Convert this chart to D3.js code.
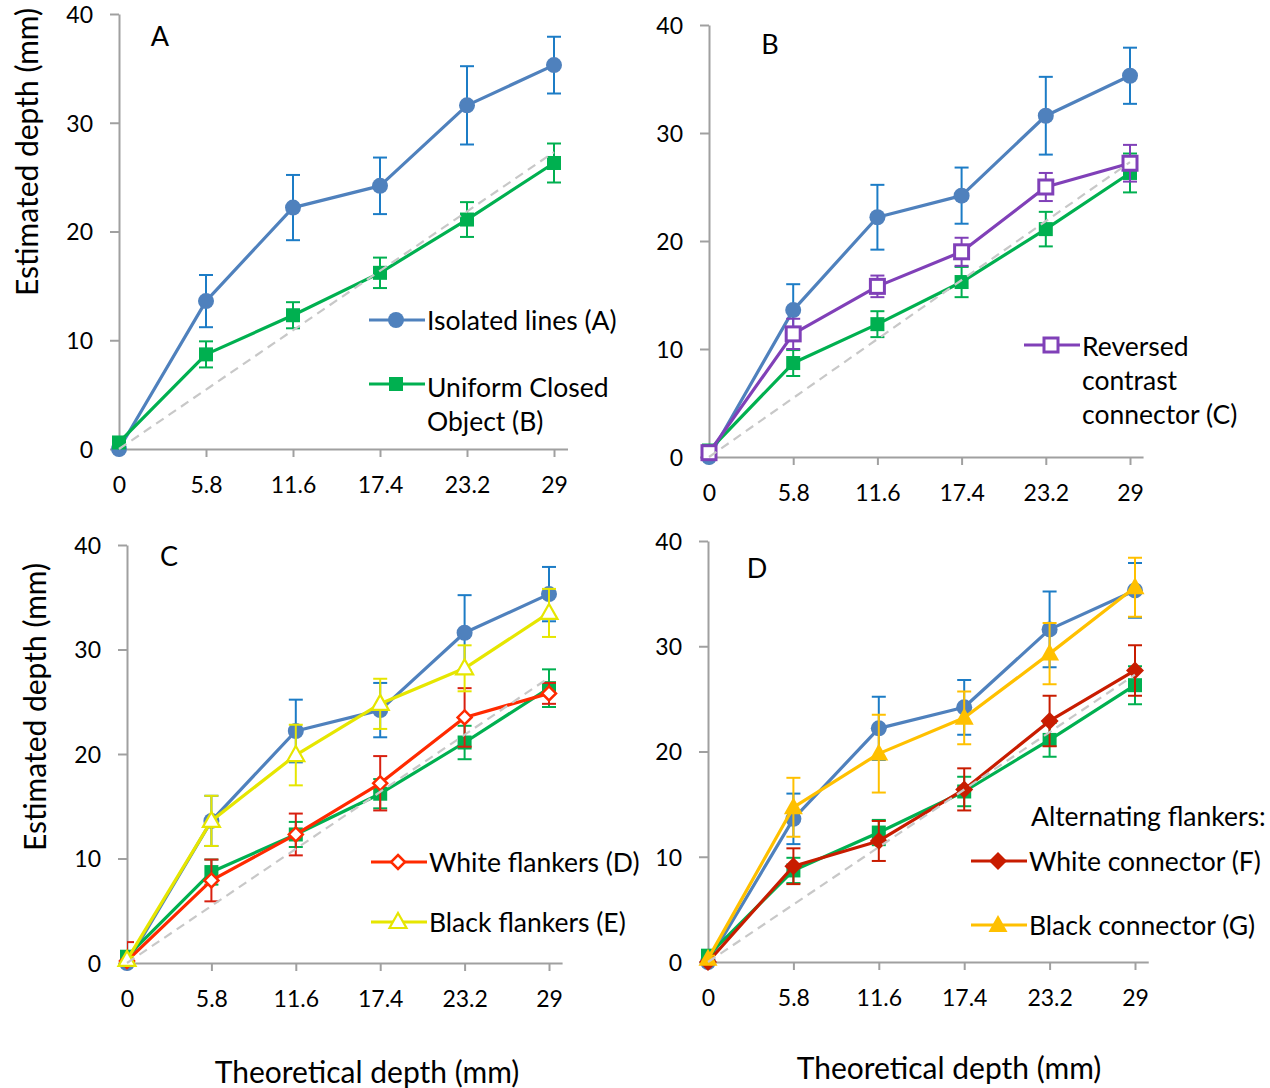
<!DOCTYPE html>
<html>
<head>
<meta charset="utf-8">
<script src="https://cdn.jsdelivr.net/npm/d3@7"></script>
<style>
  html, body { margin: 0; padding: 0; background: #fff; }
  svg { display: block; font-family: Lato, "Open Sans", sans-serif; }
</style>
</head>
<body>
<svg id="chart" width="1270" height="1088"></svg>
<script>
// Theoretical depth (mm) at which each condition was tested
const theoreticalDepth = [0, 5.8, 11.6, 17.4, 23.2, 29];
const xTickLabels = ["0", "5.8", "11.6", "17.4", "23.2", "29"];
const yTickValues = [0, 10, 20, 30, 40];

// Mean estimated depth (mm) and error bar half-widths per condition
const isolatedLines = [0.0, 13.6, 22.2, 24.2, 31.6, 35.3];
const isolatedLinesErr = [0.0, 2.4, 3.0, 2.6, 3.6, 2.6];
const uniformClosed = [0.6, 8.7, 12.3, 16.2, 21.1, 26.3];
const uniformClosedErr = [0.3, 1.2, 1.2, 1.4, 1.6, 1.8];
const reversedContrast = [0.4, 11.4, 15.8, 19.0, 25.0, 27.2];
const reversedContrastErr = [0.3, 1.4, 1.0, 1.3, 1.3, 1.7];
const whiteFlankers = [0.2, 7.9, 12.3, 17.2, 23.5, 25.8];
const whiteFlankersErr = [1.8, 2.0, 2.0, 2.6, 2.8, 1.0];
const blackFlankers = [0.3, 13.6, 19.9, 24.8, 28.2, 33.5];
const blackFlankersErr = [0.3, 2.4, 2.9, 2.4, 2.2, 2.3];
const whiteConnector = [0.0, 9.1, 11.5, 16.4, 22.9, 27.7];
const whiteConnectorErr = [0.3, 1.7, 1.9, 2.0, 2.4, 2.4];
const blackConnector = [0.3, 14.7, 19.8, 23.2, 29.3, 35.6];
const blackConnectorErr = [0.3, 2.8, 3.7, 2.5, 2.9, 2.8];

// Dashed reference line
const referenceLine = [[0, 0], [29, 27.3]];

const series = {
  isolated: { values: isolatedLines, err: isolatedLinesErr, line: "#4F81BD", errColor: "#1C7CC6", marker: "circle", fill: "#4F81BD" },
  uniform:  { values: uniformClosed, err: uniformClosedErr, line: "#00B050", errColor: "#00B050", marker: "square", fill: "#00B050" },
  reversed: { values: reversedContrast, err: reversedContrastErr, line: "#8040B8", errColor: "#8040B8", marker: "openSquare", fill: "#fff" },
  whiteFl:  { values: whiteFlankers, err: whiteFlankersErr, line: "#FF2A00", errColor: "#D82010", marker: "openDiamond", fill: "#fff" },
  blackFl:  { values: blackFlankers, err: blackFlankersErr, line: "#E6E600", errColor: "#E6E600", marker: "openTriangle", fill: "#fff" },
  whiteCo:  { values: whiteConnector, err: whiteConnectorErr, line: "#C81C00", errColor: "#C81C00", marker: "diamond", fill: "#C81C00" },
  blackCo:  { values: blackConnector, err: blackConnectorErr, line: "#FFC000", errColor: "#FFC000", marker: "triangle", fill: "#FFC000" }
};

const svg = d3.select("#chart");
const defs = svg.append("defs");
const LEGEND_FONT = 26.5;

function drawMarker(g, type, s, cx, cy) {
  if (type === "circle") {
    g.append("circle").attr("cx", cx).attr("cy", cy).attr("r", 8).attr("fill", s.fill);
  } else if (type === "square") {
    g.append("rect").attr("x", cx - 7).attr("y", cy - 7).attr("width", 14).attr("height", 14).attr("fill", s.fill);
  } else if (type === "openSquare") {
    g.append("rect").attr("x", cx - 7).attr("y", cy - 7).attr("width", 14).attr("height", 14)
      .attr("fill", "#fff").attr("stroke", s.line).attr("stroke-width", 3);
  } else if (type === "openDiamond") {
    g.append("path").attr("d", `M${cx},${cy - 7}L${cx + 7},${cy}L${cx},${cy + 7}L${cx - 7},${cy}Z`)
      .attr("fill", "#fff").attr("stroke", s.line).attr("stroke-width", 2.5);
  } else if (type === "diamond") {
    g.append("path").attr("d", `M${cx},${cy - 9}L${cx + 9},${cy}L${cx},${cy + 9}L${cx - 9},${cy}Z`)
      .attr("fill", s.fill);
  } else if (type === "openTriangle") {
    g.append("path").attr("d", `M${cx},${cy - 9}L${cx + 8.5},${cy + 6}L${cx - 8.5},${cy + 6}Z`)
      .attr("fill", "#fff").attr("stroke", s.line).attr("stroke-width", 2.2);
  } else if (type === "triangle") {
    g.append("path").attr("d", `M${cx},${cy - 10}L${cx + 9.5},${cy + 7}L${cx - 9.5},${cy + 7}Z`)
      .attr("fill", s.fill);
  }
}

function drawPanel(p, id) {
  const xEnd = p.x0 + (p.x29 - p.x0) * 29.9 / 29;
  const x = d3.scaleLinear().domain([0, 29.9]).range([p.x0, xEnd]);
  const y = d3.scaleLinear().domain([0, 40]).range([p.y0, p.y40]);
  const g = svg.append("g");

  // error bars are clipped to the plot area
  defs.append("clipPath").attr("id", "plot-" + id)
    .append("rect").attr("x", p.x0).attr("y", p.y40 - 20).attr("width", xEnd - p.x0 + 20).attr("height", p.y0 - p.y40 + 20);

  // y axis
  const ya = g.append("g").attr("transform", `translate(${p.x0},0)`)
    .call(d3.axisLeft(y).tickValues(yTickValues).tickSizeInner(9).tickSizeOuter(0).tickPadding(17));
  // x axis
  const xa = g.append("g").attr("transform", `translate(0,${p.y0})`)
    .call(d3.axisBottom(x).tickValues(theoreticalDepth).tickFormat((d, i) => xTickLabels[i])
      .tickSizeInner(8).tickSizeOuter(0).tickPadding(10));
  [ya, xa].forEach(a => {
    a.select(".domain").attr("stroke", "#A0A0A0").attr("stroke-width", 2);
    a.selectAll(".tick line").attr("stroke", "#A0A0A0").attr("stroke-width", 2);
    a.selectAll("text").attr("font-size", 23).attr("fill", "#000").attr("font-family", "Lato, sans-serif");
  });
  xa.selectAll(".tick text").attr("y", 36).attr("dy", "0.36em");
  ya.selectAll(".tick text").attr("x", -26).attr("dy", "0.36em");

  // data series: error bars, line, markers
  const line = d3.line().x((d, i) => x(theoreticalDepth[i])).y(d => y(d));
  p.series.forEach(key => {
    const s = series[key];
    const sg = g.append("g");
    const eg = sg.append("g").attr("clip-path", `url(#plot-${id})`);
    s.values.forEach((v, i) => {
      const e = s.err[i];
      if (e <= 0) return;
      const cx = x(theoreticalDepth[i]);
      eg.append("line").attr("x1", cx).attr("x2", cx).attr("y1", y(v - e)).attr("y2", y(v + e))
        .attr("stroke", s.errColor).attr("stroke-width", 2);
      [v - e, v + e].forEach(t => {
        eg.append("line").attr("x1", cx - 7).attr("x2", cx + 7).attr("y1", y(t)).attr("y2", y(t))
          .attr("stroke", s.errColor).attr("stroke-width", 2);
      });
    });
    sg.append("path").datum(s.values).attr("d", line).attr("fill", "none")
      .attr("stroke", s.line).attr("stroke-width", 3.2).attr("stroke-linejoin", "round");
    s.values.forEach((v, i) => drawMarker(sg, s.marker, s, x(theoreticalDepth[i]), y(v)));
  });

  // dashed reference
  g.append("path").datum(referenceLine)
    .attr("d", d3.line().x(d => x(d[0])).y(d => y(d[1])))
    .attr("fill", "none").attr("stroke", "#C8C8C8").attr("stroke-width", 2.2).attr("stroke-dasharray", "9,6");

  // panel letter
  g.append("text").attr("x", p.letter[0]).attr("y", p.letter[1]).attr("text-anchor", "middle")
    .attr("dy", "0.36em").attr("font-size", 27).text(p.letter[2]);

  // legend
  if (p.legendTitle) {
    g.append("text").attr("x", p.legendTitle[0]).attr("y", p.legendTitle[1]).attr("dy", "0.36em")
      .attr("font-size", LEGEND_FONT).text(p.legendTitle[2]);
  }
  p.legend.forEach(L => {
    const s = series[L.key];
    const lg = g.append("g");
    lg.append("line").attr("x1", L.x).attr("x2", L.x + 56).attr("y1", L.y).attr("y2", L.y)
      .attr("stroke", s.line).attr("stroke-width", 3.2);
    drawMarker(lg, s.marker, s, L.x + 27, L.y);
    L.lines.forEach((t, k) => {
      lg.append("text").attr("x", L.x + 58).attr("y", L.ty + k * 34).attr("dy", "0.36em")
        .attr("font-size", LEGEND_FONT).text(t);
    });
  });

  if (p.yTitle) {
    g.append("text").attr("transform", `translate(${p.yTitle[0]},${p.yTitle[1]}) rotate(-90)`)
      .attr("text-anchor", "middle").attr("dy", "0.36em").attr("font-size", 30).text("Estimated depth (mm)");
  }
  if (p.xTitle) {
    g.append("text").attr("x", p.xTitle[0]).attr("y", p.xTitle[1]).attr("text-anchor", "middle")
      .attr("dy", "0.36em").attr("font-size", 30).text("Theoretical depth (mm)");
  }
}

drawPanel({
  x0: 119, x29: 554, y0: 449, y40: 14,
  series: ["isolated", "uniform"],
  letter: [160, 36, "A"],
  yTitle: [27, 152],
  legend: [
    { key: "isolated", x: 369, y: 320, ty: 320, lines: ["Isolated lines (A)"] },
    { key: "uniform", x: 369, y: 384, ty: 387, lines: ["Uniform Closed", "Object (B)"] }
  ]
}, "a");
drawPanel({
  x0: 709, x29: 1130, y0: 457, y40: 25,
  series: ["isolated", "uniform", "reversed"],
  letter: [770, 44, "B"],
  legend: [
    { key: "reversed", x: 1024, y: 345, ty: 346, lines: ["Reversed", "contrast", "connector (C)"] }
  ]
}, "b");
drawPanel({
  x0: 127, x29: 549, y0: 963, y40: 545,
  series: ["isolated", "uniform", "whiteFl", "blackFl"],
  letter: [169, 556, "C"],
  yTitle: [35, 707],
  xTitle: [367, 1072],
  legend: [
    { key: "whiteFl", x: 371, y: 862, ty: 862, lines: ["White flankers (D)"] },
    { key: "blackFl", x: 371, y: 922, ty: 922, lines: ["Black flankers (E)"] }
  ]
}, "c");
drawPanel({
  x0: 708, x29: 1135, y0: 962, y40: 541,
  series: ["isolated", "uniform", "whiteCo", "blackCo"],
  letter: [757, 568, "D"],
  xTitle: [949, 1068],
  legendTitle: [1031, 816, "Alternating flankers:"],
  legend: [
    { key: "whiteCo", x: 971, y: 861, ty: 861, lines: ["White connector (F)"] },
    { key: "blackCo", x: 971, y: 925, ty: 925, lines: ["Black connector (G)"] }
  ]
}, "d");
</script>
</body>
</html>
